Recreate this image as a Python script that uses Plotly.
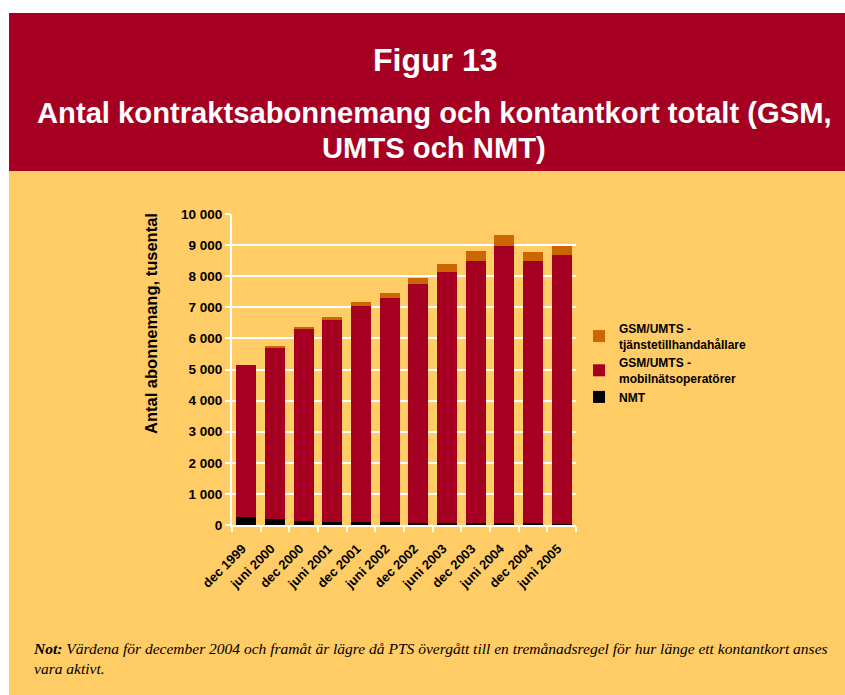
import plotly.graph_objects as go

# Data (tusental)
perioder = ['dec 1999', 'juni 2000', 'dec 2000', 'juni 2001', 'dec 2001', 'juni 2002',
            'dec 2002', 'juni 2003', 'dec 2003', 'juni 2004', 'dec 2004', 'juni 2005']
nmt = [250, 180, 130, 100, 100, 90, 80, 70, 60, 55, 50, 45]
mobilnat = [4890, 5520, 6180, 6500, 6950, 7200, 7680, 8070, 8430, 8915, 8440, 8645]
tjanste = [0, 60, 70, 90, 130, 170, 190, 250, 310, 350, 290, 280]

RED = '#A50021'
BEIGE = '#FFCC66'
ORANGE = '#CC6600'
W, H = 845, 695

fig = go.Figure()
fig.add_trace(go.Bar(x=perioder, y=nmt, name='NMT', marker_color='black'))
fig.add_trace(go.Bar(x=perioder, y=mobilnat, name='GSM/UMTS -<br>mobilnätsoperatörer',
                     marker_color=RED))
fig.add_trace(go.Bar(x=perioder, y=tjanste, name='GSM/UMTS -<br>tjänstetillhandahållare',
                     marker_color=ORANGE))
fig.update_traces(marker_line_width=0)

# Bakgrund: röd rubrikruta och beige yta
fig.add_shape(type='rect', xref='paper', yref='paper', x0=9 / W, x1=1, y0=1 - 171 / H, y1=1 - 13 / H,
              fillcolor=RED, line_width=0, layer='below')
fig.add_shape(type='rect', xref='paper', yref='paper', x0=9 / W, x1=1, y0=0, y1=1 - 171 / H,
              fillcolor=BEIGE, line_width=0, layer='below')

sans = 'Liberation Sans, Arial'
def text(txt, x, y, size, **kw):
    fnt = dict(family=sans, size=size, color='black')
    fnt.update(kw.pop('font', {}))
    fig.add_annotation(text=txt, xref='paper', yref='paper', x=x / W, y=1 - y / H,
                       xanchor=kw.pop('xanchor', 'center'), yanchor='middle',
                       showarrow=False, font=fnt, **kw)

text('<b>Figur 13</b>', 435, 60, 32, font=dict(color='white'))
text('<b>Antal kontraktsabonnemang och kontantkort totalt (GSM,</b>', 434, 113, 29.2,
     font=dict(color='white'))
text('<b>UMTS och NMT)</b>', 434, 148, 29.2, font=dict(color='white'))
text('<b>Antal abonnemang, tusental</b>', 151, 324, 16.5, textangle=-90)
text('<b>Not:</b> Värdena för december 2004 och framåt är lägre då PTS övergått till en tremånadsregel för hur länge ett kontantkort anses<br>vara aktivt.',
     31, 658, 15.5, xanchor='left', align='left',
     font=dict(family='Liberation Serif', style='italic'))

fig.update_layout(
    width=W, height=H,
    margin=dict(l=0, r=0, t=0, b=0),
    paper_bgcolor='white', plot_bgcolor=BEIGE,
    barmode='stack', bargap=0.3,
    separators=', ',
    showlegend=True,
    legend=dict(x=579 / W, y=1 - 314 / H, xanchor='left', yanchor='top', traceorder='reversed',
                bgcolor='rgba(0,0,0,0)', itemwidth=30,
                font=dict(family=sans, size=12, color='black', weight='bold')),
    font=dict(family=sans, color='black'),
)
fig.update_xaxes(domain=[232 / W, 576 / W], showline=True, linecolor='white', linewidth=2,
                 ticks='outside', tickson='boundaries', tickcolor='white', ticklen=5, tickwidth=2,
                 tickangle=-45, tickfont=dict(size=13, weight='bold'), showgrid=False,
                 ticklabelstandoff=9, ticklabelshift=-4, automargin=False)
fig.update_yaxes(domain=[1 - 525 / H, 1 - 214 / H], range=[0, 10000], dtick=1000, tickformat=',',
                 showline=True, linecolor='white', linewidth=2, ticks='outside', tickcolor='white',
                 ticklen=5, tickwidth=2, gridcolor='white', gridwidth=2, zeroline=False,
                 tickfont=dict(size=13.5, weight='bold'), automargin=False)

fig.write_html('out.html', config={'displayModeBar': False},
               post_script="document.body.style.margin='0';")
